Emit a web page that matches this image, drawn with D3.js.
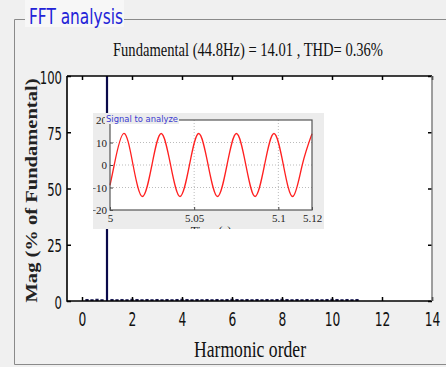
<!DOCTYPE html>
<html>
<head>
<meta charset="utf-8">
<script src="https://cdn.jsdelivr.net/npm/d3@7"></script>
<style>
  html, body { margin: 0; padding: 0; background: #f0f0f0; }
  svg { display: block; }
</style>
</head>
<body>
<svg id="chart" width="446" height="367"></svg>
<script>
// harmonic spectrum (% of fundamental)
const fundamentalOrder = 1;
const fundamentalMag = 100;
const binOrders = [0.2, 0.4, 0.6, 0.8, 1.2, 1.4, 1.6, 1.8, 2.0, 2.2, 2.4, 2.6, 2.8, 3.0,
  3.2, 3.4, 3.6, 3.8, 4.0, 4.2, 4.4, 4.6, 4.8, 5.0, 5.2, 5.4, 5.6, 5.8, 6.0, 6.2, 6.4,
  6.6, 6.8, 7.0, 7.2, 7.4, 7.6, 7.8, 8.0, 8.2, 8.4, 8.6, 8.8, 9.0, 9.2, 9.4, 9.6, 9.8,
  10.0, 10.2, 10.4, 10.6, 10.8, 11.0];
const binMags = [0.9, 0.8, 1.0, 0.8, 0.9, 0.8, 0.9, 0.8, 1.0, 0.9, 0.8, 0.9, 0.8, 0.9,
  0.8, 0.9, 0.8, 0.9, 1.0, 0.9, 0.8, 0.9, 0.8, 0.9, 0.8, 0.9, 0.8, 0.9, 1.0, 0.9, 0.8,
  0.9, 0.8, 0.9, 0.8, 0.9, 0.8, 0.9, 1.0, 0.9, 0.8, 0.9, 0.8, 0.9, 0.8, 0.9, 0.8, 0.9,
  1.0, 0.9, 0.8, 0.9, 0.8, 0.9];
const xTicks = [0, 2, 4, 6, 8, 10, 12, 14];
const yTicks = [0, 25, 50, 75, 100];

// signal to analyze (read at zero crossings and peaks)
const sigTime = [5.0, 5.0025, 5.0081, 5.0137, 5.0193, 5.0249, 5.0304, 5.036, 5.0416,
  5.0472, 5.0527, 5.0583, 5.0639, 5.0695, 5.0751, 5.0807, 5.0862, 5.0918, 5.0974,
  5.103, 5.1086, 5.1142, 5.12];
const sigValue = [-9, 0, 14, 0, -14, 0, 14, 0, -14, 0, 14, 0, -14, 0, 14, 0, -14, 0,
  14, 0, -14, 0, 13.9];
const sigXTicks = [5, 5.05, 5.1, 5.12];
const sigXLabels = ['5', '5.05', '5.1', '5.12'];
const sigYTicks = [-20, -10, 0, 10, 20];

const svg = d3.select('#chart');
const narrow = "'Liberation Sans Narrow', 'DejaVu Sans Condensed', sans-serif";
const serif = "'Liberation Serif', 'DejaVu Serif', serif";

// panel frame
svg.append('rect').attr('width', 446).attr('height', 367).attr('fill', '#f0f0f0');
svg.append('path')
  .attr('d', 'M25,19.5H14.5V364.5H446 M124,19.5H446')
  .attr('fill', 'none').attr('stroke', '#8a8a8a').attr('stroke-width', 1);
svg.append('rect').attr('x', 25).attr('y', 0).attr('width', 99).attr('height', 27)
  .attr('fill', '#f7f7f7');
svg.append('text').attr('x', 29).attr('y', 24)
  .attr('font-family', narrow).attr('font-size', 21).attr('fill', '#2323d8')
  .attr('textLength', 94).attr('lengthAdjust', 'spacingAndGlyphs')
  .text('FFT analysis');

// main axes
const margin = { left: 67, right: 432, top: 76, bottom: 301 };
const x = d3.scaleLinear().domain([-0.6, 14]).range([margin.left, margin.right]);
const y = d3.scaleLinear().domain([0, 100]).range([margin.bottom, margin.top]);

svg.append('rect')
  .attr('x', margin.left).attr('y', margin.top)
  .attr('width', margin.right - margin.left).attr('height', margin.bottom - margin.top)
  .attr('fill', '#fff');

svg.append('text').attr('x', 248).attr('y', 56)
  .attr('text-anchor', 'middle').attr('font-family', serif).attr('font-size', 18)
  .attr('textLength', 270).attr('lengthAdjust', 'spacingAndGlyphs')
  .attr('fill', '#111')
  .text('Fundamental (44.8Hz) = 14.01 , THD= 0.36%');

// small harmonic bins
const barW = x(0.13) - x(0);
svg.append('g').selectAll('rect')
  .data(binOrders.map((o, i) => ({ o, m: binMags[i] })))
  .join('rect')
  .attr('x', d => x(d.o) - barW / 2)
  .attr('y', d => y(d.m))
  .attr('width', barW)
  .attr('height', d => y(0) - y(d.m))
  .attr('fill', '#1a1a50');

// fundamental
svg.append('line')
  .attr('x1', x(fundamentalOrder)).attr('x2', x(fundamentalOrder))
  .attr('y1', y(0)).attr('y2', y(fundamentalMag))
  .attr('stroke', '#0a0a4a').attr('stroke-width', 2.2);

// ticks (inward, both sides)
const xAxisB = d3.axisBottom(x).tickValues(xTicks).tickSize(-4).tickPadding(12)
  .tickFormat(d3.format('d'));
const gxb = svg.append('g').attr('transform', `translate(0,${margin.bottom})`).call(xAxisB);
gxb.select('.domain').remove();
gxb.selectAll('text').attr('font-family', narrow).attr('font-size', 19).attr('fill', '#111')
  .attr('textLength', d => String(d).length * 7.8).attr('lengthAdjust', 'spacingAndGlyphs');

const gxt = svg.append('g').attr('transform', `translate(0,${margin.top})`)
  .call(d3.axisTop(x).tickValues(xTicks).tickSize(-4).tickFormat(''));
gxt.select('.domain').remove();

const gyl = svg.append('g').attr('transform', `translate(${margin.left},0)`)
  .call(d3.axisLeft(y).tickValues(yTicks).tickSize(-4).tickPadding(5));
gyl.select('.domain').remove();
gyl.selectAll('text').attr('font-family', narrow).attr('font-size', 18).attr('fill', '#111')
  .attr('dy', '0.4em')
  .attr('textLength', d => String(d).length * 7.4).attr('lengthAdjust', 'spacingAndGlyphs');

const gyr = svg.append('g').attr('transform', `translate(${margin.right},0)`)
  .call(d3.axisRight(y).tickValues(yTicks).tickSize(-4).tickFormat(''));
gyr.select('.domain').remove();
svg.selectAll('.tick line').attr('stroke', '#000').attr('stroke-width', 1.5);

// plot frame
svg.append('path')
  .attr('d', `M${margin.left},${margin.top}V${margin.bottom}H${margin.right}`)
  .attr('fill', 'none').attr('stroke', '#000').attr('stroke-width', 1.6);
svg.append('path')
  .attr('d', `M${margin.left},${margin.top}H${margin.right}`)
  .attr('stroke', '#000').attr('stroke-width', 1.4);
svg.append('path')
  .attr('d', `M${margin.right},${margin.top}V${margin.bottom}`)
  .attr('stroke', '#777').attr('stroke-width', 1.4);

svg.append('text')
  .attr('transform', `translate(37,${(margin.top + margin.bottom) / 2 + 2}) rotate(-90)`)
  .attr('text-anchor', 'middle').attr('font-family', serif).attr('font-size', 16)
  .attr('font-weight', 'bold').attr('fill', '#222')
  .attr('textLength', 224).attr('lengthAdjust', 'spacingAndGlyphs')
  .text('Mag (% of Fundamental)');

svg.append('text').attr('x', 250).attr('y', 357)
  .attr('text-anchor', 'middle').attr('font-family', serif).attr('font-size', 23)
  .attr('textLength', 112).attr('lengthAdjust', 'spacingAndGlyphs')
  .attr('fill', '#111').text('Harmonic order');

// inset: signal to analyze
const inset = { left: 93, right: 324, top: 113, bottom: 229 };
svg.append('clipPath').attr('id', 'insetClip').append('rect')
  .attr('x', inset.left).attr('y', inset.top)
  .attr('width', inset.right - inset.left).attr('height', inset.bottom - inset.top);
const ig = svg.append('g').attr('clip-path', 'url(#insetClip)');
ig.append('rect')
  .attr('x', inset.left).attr('y', inset.top)
  .attr('width', inset.right - inset.left).attr('height', inset.bottom - inset.top)
  .attr('fill', '#ececec');

const xi = d3.scaleLinear().domain([5, 5.12]).range([110, 312]);
const yi = d3.scaleLinear().domain([-20, 20]).range([210, 120]);

ig.append('rect').attr('x', xi(5)).attr('y', yi(20))
  .attr('width', xi(5.12) - xi(5)).attr('height', yi(-20) - yi(20)).attr('fill', '#fff');

// grid
ig.append('g').selectAll('line').data([5.05, 5.1]).join('line')
  .attr('x1', d => xi(d)).attr('x2', d => xi(d)).attr('y1', yi(20)).attr('y2', yi(-20))
  .attr('stroke', '#bbb').attr('stroke-dasharray', '1,2');
ig.append('g').selectAll('line').data([-10, 0, 10]).join('line')
  .attr('x1', xi(5)).attr('x2', xi(5.12)).attr('y1', d => yi(d)).attr('y2', d => yi(d))
  .attr('stroke', '#bbb').attr('stroke-dasharray', '1,2');

const line = d3.line().x((d, i) => xi(sigTime[i])).y(d => yi(d)).curve(d3.curveNatural);
ig.append('path').datum(sigValue).attr('d', line)
  .attr('fill', 'none').attr('stroke', '#ff2020').attr('stroke-width', 1.3);

const gix = ig.append('g').attr('transform', `translate(0,${yi(-20)})`)
  .call(d3.axisBottom(xi).tickValues(sigXTicks).tickSize(-3).tickPadding(4)
    .tickFormat((d, i) => sigXLabels[i]));
gix.select('.domain').remove();
gix.selectAll('text').attr('font-family', serif).attr('font-size', 11).attr('fill', '#222');

const giy = ig.append('g').attr('transform', `translate(${xi(5)},0)`)
  .call(d3.axisLeft(yi).tickValues(sigYTicks).tickSize(-3).tickPadding(3));
giy.select('.domain').remove();
giy.selectAll('text').attr('font-family', serif).attr('font-size', 11).attr('fill', '#222');
ig.selectAll('.tick line').attr('stroke', '#444');

ig.append('rect').attr('x', xi(5)).attr('y', yi(20))
  .attr('width', xi(5.12) - xi(5)).attr('height', yi(-20) - yi(20))
  .attr('fill', 'none').attr('stroke', '#555').attr('stroke-width', 1.2);

ig.append('text').attr('x', xi(5.06)).attr('y', 235)
  .attr('text-anchor', 'middle').attr('font-family', serif).attr('font-size', 12)
  .attr('fill', '#222').text('Time (s)');

ig.append('rect').attr('x', 105).attr('y', 113).attr('width', 74).attr('height', 11)
  .attr('fill', '#ececec');
ig.append('text').attr('x', 106).attr('y', 122)
  .attr('font-family', "'DejaVu Sans', sans-serif").attr('font-size', 9)
  .attr('fill', '#3a3ad0').attr('textLength', 72).attr('lengthAdjust', 'spacingAndGlyphs')
  .text('Signal to analyze');
</script>
</body>
</html>
